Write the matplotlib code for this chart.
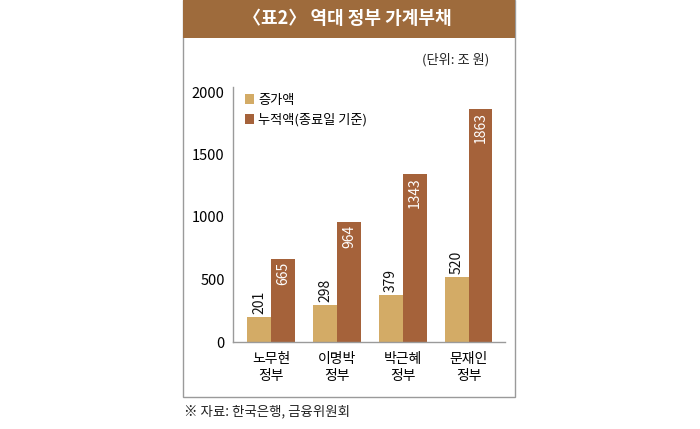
import matplotlib.pyplot as plt
import numpy as np
from matplotlib.patches import Rectangle

plt.rcParams["font.family"] = ["Noto Sans CJK KR", "DejaVu Sans"]

GOVERNMENTS = ["노무현\n정부", "이명박\n정부", "박근혜\n정부", "문재인\n정부"]
INCREASE = [201, 298, 379, 520]
CUMULATIVE = [665, 964, 1343, 1863]
SERIES_LABELS = ["증가액", "누적액(종료일 기준)"]
Y_TICKS = [0, 500, 1000, 1500, 2000]

LIGHT = "#D3AB66"
DARK = "#A5623A"
BANNER = "#9E6B3C"
FRAME = "#9A9A9A"


def main() -> None:
    fig = plt.figure(figsize=(7.0, 4.29), dpi=100)

    # panel frame and title banner
    fig.patches.append(Rectangle((183 / 700, 1 - 397 / 429), 332 / 700, 397 / 429,
                                 transform=fig.transFigure, facecolor="none",
                                 edgecolor=FRAME, linewidth=1.0, zorder=-1))
    fig.patches.append(Rectangle((183 / 700, 1 - 38 / 429), 332 / 700, 38 / 429,
                                 transform=fig.transFigure, facecolor=BANNER,
                                 edgecolor="none", zorder=1))
    fig.text(347 / 700, 1 - 19 / 429, "〈표2〉 역대 정부 가계부채", color="white",
             fontsize=13, fontweight="bold", ha="center", va="center")
    fig.text(489 / 700, 1 - 60 / 429, "(단위: 조 원)", fontsize=9.5,
             ha="right", va="center", color="#222222")
    fig.text(184 / 700, 1 - 411 / 429, "※ 자료: 한국은행, 금융위원회", fontsize=9.7,
             ha="left", va="center", color="#222222")

    ax = fig.add_axes((233 / 700, 1 - 342 / 429, 272 / 700, 255 / 429))
    ax.patch.set_alpha(0)
    ax.set_zorder(2)

    x = np.arange(len(GOVERNMENTS))
    width = 0.36
    light_bars = ax.bar(x - width / 2, INCREASE, width, color=LIGHT,
                        label=SERIES_LABELS[0], zorder=2)
    dark_bars = ax.bar(x + width / 2, CUMULATIVE, width, color=DARK,
                       label=SERIES_LABELS[1], zorder=2)

    for bar, value in zip(light_bars, INCREASE):
        ax.text(bar.get_x() + bar.get_width() / 2, value + 25, f"{value}",
                rotation=90, ha="center", va="bottom", fontsize=10, color="#111111")
    for bar, value in zip(dark_bars, CUMULATIVE):
        ax.text(bar.get_x() + bar.get_width() / 2, value - 25, f"{value}",
                rotation=90, ha="center", va="top", fontsize=10, color="white")

    ax.set_xlim(-0.58, 3.55)
    ax.set_ylim(0, 2040)
    ax.set_yticks(Y_TICKS)
    ax.set_yticklabels([str(t) for t in Y_TICKS], fontsize=10.5)
    ax.set_xticks(x)
    ax.set_xticklabels(GOVERNMENTS, fontsize=10, linespacing=1.3)
    ax.tick_params(axis="both", length=0, pad=6)
    ax.tick_params(axis="x", pad=7)

    for side in ["top", "right"]:
        ax.spines[side].set_visible(False)
    for side in ["left", "bottom"]:
        ax.spines[side].set_color(FRAME)
        ax.spines[side].set_linewidth(1.0)

    ax.legend(loc="upper left", bbox_to_anchor=(0.02, 1.0), frameon=False,
              fontsize=9.5, handlelength=0.7, handleheight=0.7,
              handletextpad=0.3, labelspacing=0.5, borderaxespad=0.1)

    fig.savefig("out.png", dpi=100)


if __name__ == "__main__":
    main()
